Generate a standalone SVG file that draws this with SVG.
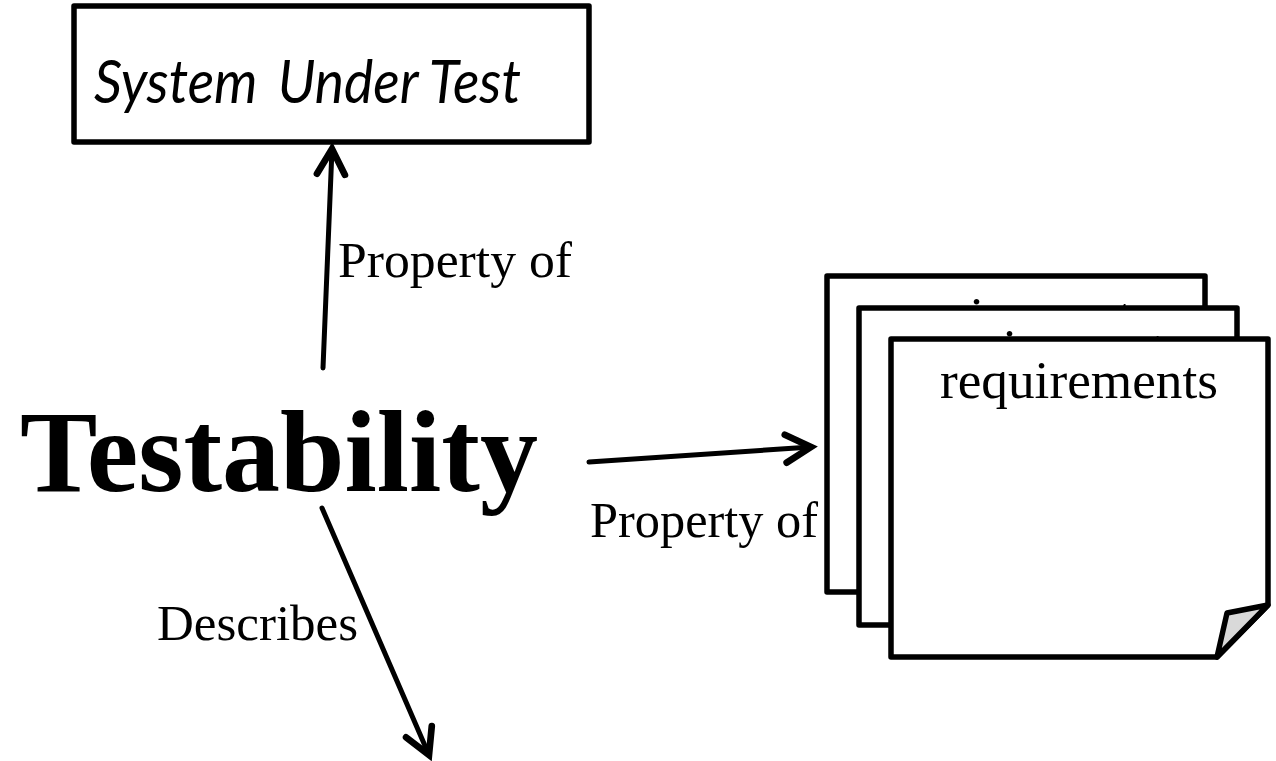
<svg xmlns="http://www.w3.org/2000/svg" width="1276" height="761" viewBox="0 0 1276 761">
  <style>
    .box { fill: #ffffff; stroke: #000000; stroke-width: 5.5; stroke-linejoin: round; }
    .flap { fill: #d9d9d9; stroke: #000000; stroke-width: 5.5; stroke-linejoin: round; }
    .edge { fill: none; stroke: #000000; stroke-width: 5; stroke-linecap: round; }
    .serif { font-family: "Liberation Serif", "Times New Roman", serif; fill: #000000; }
    .label { font-size: 51px; }
    .page-text { font-size: 52px; }
    .sans-italic { font-family: Lato, "Open Sans", "Liberation Sans", sans-serif; font-style: italic; font-size: 60px; fill: #000000; }
  </style>
  <defs>
    <marker id="chevron" markerUnits="userSpaceOnUse" markerWidth="40" markerHeight="40" refX="0" refY="0" viewBox="-25 -15 30 30" orient="auto" overflow="visible">
      <path d="M-19,-10.5 L0,0 L-19,10.5" fill="none" stroke="#000000" stroke-width="5" stroke-linecap="round" stroke-linejoin="miter"/>
    </marker>
  </defs>

  <rect x="0" y="0" width="1276" height="761" fill="#ffffff"/>

  <!-- System under test -->
  <g id="system-under-test">
    <rect class="box" x="74" y="6" width="515" height="136"/>
    <text class="sans-italic" x="94" y="103" textLength="427" lengthAdjust="spacingAndGlyphs">System <tspan dx="8">Under Test</tspan></text>
  </g>

  <!-- Central concept -->
  <g id="testability">
    <text class="serif" x="20" y="491" font-size="116" font-weight="bold" textLength="518" lengthAdjust="spacingAndGlyphs">Testability</text>
  </g>

  <!-- Stack of requirement documents, back to front -->
  <g id="requirements">
    <rect class="box" x="827" y="276" width="378" height="316"/>
    <text class="serif page-text" x="1014" y="334" text-anchor="middle" textLength="278" lengthAdjust="spacingAndGlyphs">requirements</text>
    <rect class="box" x="859" y="308" width="378" height="317"/>
    <text class="serif page-text" x="1047" y="366" text-anchor="middle" textLength="278" lengthAdjust="spacingAndGlyphs">requirements</text>
    <path class="box" d="M891,339 L1268,339 L1268,605 L1217,657 L891,657 Z"/>
    <path class="flap" d="M1217,657 L1227,613 L1268,605 Z"/>
    <text class="serif page-text" x="1079" y="398" text-anchor="middle" textLength="278" lengthAdjust="spacingAndGlyphs">requirements</text>
  </g>

  <!-- Connectors and their labels -->
  <g id="connectors">
    <line class="edge" x1="323" y1="368" x2="332" y2="149" marker-end="url(#chevron)"/>
    <text class="serif label" x="338" y="277" textLength="234" lengthAdjust="spacingAndGlyphs">Property of</text>

    <line class="edge" x1="589" y1="462" x2="811" y2="447" marker-end="url(#chevron)"/>
    <text class="serif label" x="590" y="537" textLength="228" lengthAdjust="spacingAndGlyphs">Property of</text>

    <line class="edge" x1="322" y1="508" x2="429" y2="755" marker-end="url(#chevron)"/>
    <text class="serif label" x="157" y="640">Describes</text>
  </g>
</svg>
